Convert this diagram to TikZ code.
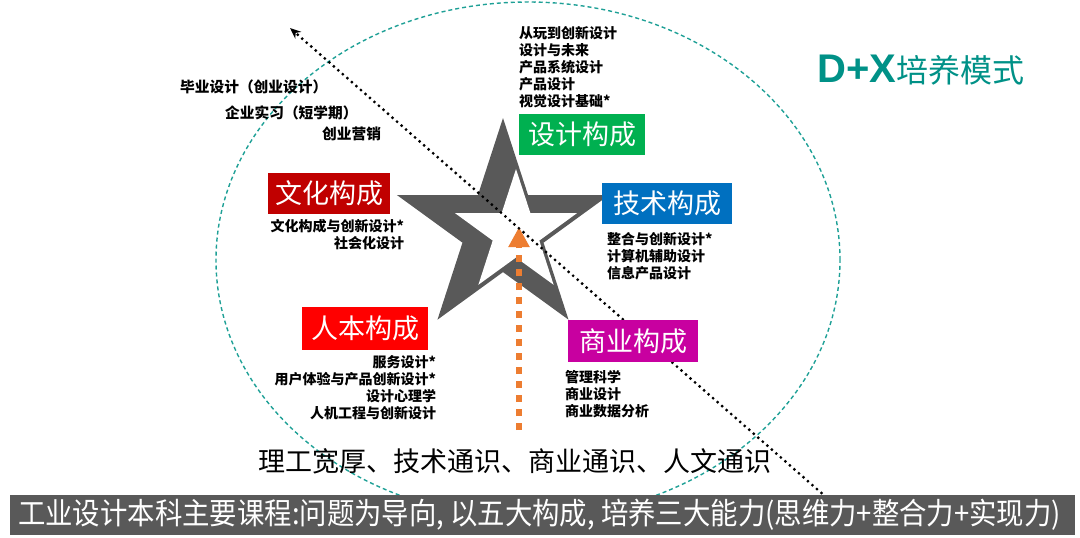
\documentclass[tikz,border=0pt]{standalone}
\usepackage{fontspec}
\setmainfont{Noto Sans CJK SC}
\newfontfamily\logofont{Liberation Sans}
\usetikzlibrary{positioning, arrows.meta}

\definecolor{ringteal}{RGB}{30,160,150}
\definecolor{logoteal}{RGB}{0,145,135}
\definecolor{stargray}{RGB}{89,89,89}
\definecolor{arroworange}{RGB}{237,125,49}
\definecolor{designgreen}{RGB}{0,176,80}
\definecolor{techblue}{RGB}{0,112,192}
\definecolor{culturered}{RGB}{192,0,0}
\definecolor{humanred}{RGB}{255,0,0}
\definecolor{bizmagenta}{RGB}{200,0,160}
\definecolor{bargray}{RGB}{89,89,89}

\begin{document}
\begin{tikzpicture}[
        x=1pt, y=-1pt,
        module/.style={rectangle, inner sep=0pt, minimum height=41pt, text=white, font=\fontsize{27}{27}\selectfont},
        courses/.style={inner sep=0pt, font=\fontsize{14}{17}\selectfont\bfseries},
        ring/.style={draw=ringteal, line width=1.4pt, dash pattern=on 4pt off 3pt},
        diag/.style={line width=3.2pt, line cap=round, dash pattern=on 0pt off 6pt, -{Stealth[length=11pt, width=9pt]}},
        rise/.style={draw=arroworange, line width=6pt, dash pattern=on 7pt off 7pt, -{Triangle[length=20pt, width=20pt]}}
    ]
    \useasboundingbox (0,0) rectangle (1080,538);

    % outer ring
    \draw[ring] (528,260) ellipse [x radius=312pt, y radius=258pt];

    % star frame
    \fill[stargray, shift={(503,229.5)}] plot[samples at={0,...,9}] (-90+36*\x:{mod(\x,2)==0 ? 111.5 : 42.6}) -- cycle;
    \fill[white, shift={(516,233)}] plot[samples at={0,...,9}] (-90+36*\x:{mod(\x,2)==0 ? 64 : 24.5}) -- cycle;

    % arrows
    \coordinate (RiseBase) at (519,430);
    \coordinate (RiseTip) at (519,227);
    \draw[rise] (RiseBase) -- (RiseTip);
    \coordinate (DiagBase) at (826,497);
    \coordinate (DiagTip) at (290,28);
    \draw[diag] (DiagBase) -- (DiagTip);

    % five modules
    \node[module, fill=designgreen, minimum width=126pt] (Design) at (582,134.5) {设计构成};
    \node[module, fill=techblue, minimum width=130pt] (Tech) at (667,203.5) {技术构成};
    \node[module, fill=culturered, minimum width=122pt] (Culture) at (329,193.5) {文化构成};
    \node[module, fill=humanred, minimum width=126pt, minimum height=43pt] (Human) at (365,328.5) {人本构成};
    \node[module, fill=bizmagenta, minimum width=130pt, minimum height=42pt] (Biz) at (633,341) {商业构成};

    \node[courses, align=left, above=6pt of Design.north west, anchor=south west] (DesignList) {从玩到创新设计\\设计与未来\\产品系统设计\\产品设计\\视觉设计基础*};
    \node[courses, align=right, below=5pt of Culture.south east, anchor=north east, xshift=14pt] (CultureList) {文化构成与创新设计*\\社会化设计};
    \node[courses, align=left, below=8pt of Tech.south west, anchor=north west, xshift=5pt] (TechList) {整合与创新设计*\\计算机辅助设计\\信息产品设计};
    \node[courses, align=right, below=5pt of Human.south east, anchor=north east, xshift=8pt] (HumanList) {服务设计*\\用户体验与产品创新设计*\\设计心理学\\人机工程与创新设计};
    \node[courses, align=left, below=8pt of Biz.south west, anchor=north west, xshift=-3pt] (BizList) {管理科学\\商业设计\\商业数据分析};

    % practice
    \node[courses, font=\fontsize{14.7}{17}\selectfont\bfseries, anchor=west] (Thesis) at (180,87) {毕业设计（创业设计）};
    \node[courses, font=\fontsize{14.7}{17}\selectfont\bfseries, anchor=west] (Intern) at (225,113) {企业实习（短学期）};
    \node[courses, font=\fontsize{14.7}{17}\selectfont\bfseries, anchor=west] (Market) at (322,134) {创业营销};

    \node[font=\fontsize{27}{27}\selectfont, inner sep=0pt] (Base) at (515,461) {理工宽厚、技术通识、商业通识、人文通识};

    \node[text=logoteal, anchor=west, inner sep=0pt] (Logo) at (817,70) {{\logofont\bfseries\fontsize{40}{40}\selectfont D+X}{\fontsize{32}{32}\selectfont 培养模式}};

    % bottom bar
    \fill[bargray] (10,495) rectangle (1075,535);
    \node[text=white, anchor=west, inner sep=0pt, font=\fontsize{30}{30}\selectfont] (Summary) at (18,515) {\scalebox{0.913}[1]{工业设计本科主要课程:问题为导向, 以五大构成, 培养三大能力(思维力+整合力+实现力)}};
\end{tikzpicture}
\end{document}
